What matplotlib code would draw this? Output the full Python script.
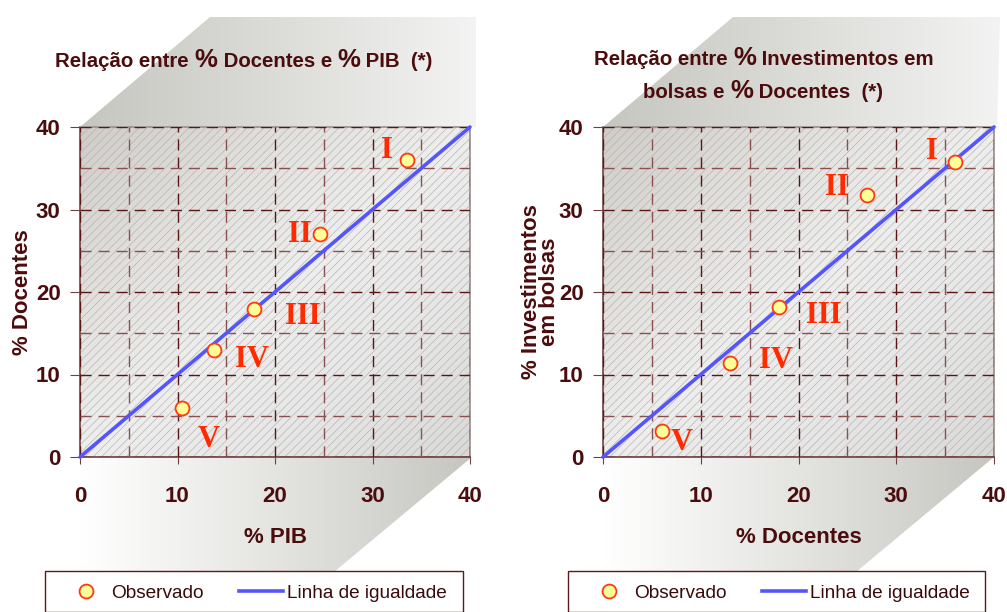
import matplotlib
matplotlib.use('Agg')
import matplotlib.pyplot as plt
import numpy as np
from matplotlib.patches import Polygon, Rectangle
from matplotlib.colors import LinearSegmentedColormap
from matplotlib.offsetbox import TextArea, HPacker, AnnotationBbox
from matplotlib.lines import Line2D

# ---------------- data ----------------
regioes = ['I', 'II', 'III', 'IV', 'V']
pib = [33.5, 24.6, 17.8, 13.7, 10.5]
docentes = [36.0, 27.0, 18.0, 13.0, 6.0]
bolsas = [35.7, 31.8, 18.2, 11.4, 3.2]
igualdade = [0, 40]
ticks = [0, 10, 20, 30, 40]

# label offsets (pixels) for region names
off_esq = [(-20, 9), (-20, 0), (49, -8), (38, -10), (26, -32)]
off_dir = [(-23, 11), (-30, 7), (45, -9), (46, 2), (20, -12)]

MAROON = '#4a0c0c'
SPINE = '#6e4040'
RED = '#ff2a00'
BLUE = '#5555ff'

plt.rcParams['font.family'] = ['Liberation Sans', 'DejaVu Sans']
plt.rcParams['hatch.linewidth'] = 0.45

W, H = 1007, 612
fig = plt.figure(figsize=(W / 100, H / 100), dpi=100)

# background axes in pixel coordinates
bg = fig.add_axes([0, 0, 1, 1], zorder=-10)
bg.set_xlim(0, W)
bg.set_ylim(H, 0)
bg.axis('off')

top_cmap = LinearSegmentedColormap.from_list('top', ['#c6c6c1', '#dcdcd8', '#f3f3f3'])
bot_cmap = LinearSegmentedColormap.from_list('bot', ['#ffffff', '#e4e4e1', '#c6c6c1'])


def grad_poly(pts, cmap):
    xs = [p[0] for p in pts]
    ys = [p[1] for p in pts]
    x0, x1, y0, y1 = min(xs), max(xs), min(ys), max(ys)
    g = np.linspace(0, 1, 256)[None, :]
    im = bg.imshow(g, extent=[x0, x1, y1, y0], cmap=cmap, aspect='auto',
                   interpolation='bilinear')
    poly = Polygon(pts, closed=True, transform=bg.transData, facecolor='none',
                   edgecolor='none')
    bg.add_patch(poly)
    im.set_clip_path(poly)


# left panel shapes
grad_poly([(80, 127), (210, 17), (476, 17), (476, 127)], top_cmap)
grad_poly([(80, 457), (472, 457), (328, 577), (80, 577)], bot_cmap)
# right panel shapes
grad_poly([(603, 127), (733, 17), (1000, 17), (997, 127)], top_cmap)
grad_poly([(603, 457), (994, 457), (850, 577), (603, 577)], bot_cmap)
bg.set_xlim(0, W)
bg.set_ylim(H, 0)

area_cmap = LinearSegmentedColormap.from_list(
    'area', ['#d0cdc9', '#e0dfdc', '#eeeeee', '#e6e6e6', '#d9d9d8'])


def panel(rect, xs, ys, offs, xlabel, ylabel, ylabel_x):
    ax = fig.add_axes(rect)
    # gradient fill
    xx, yy = np.meshgrid(np.linspace(0, 1, 200), np.linspace(0, 1, 200))
    u = (xx + yy) / 2.0
    ax.imshow(u, extent=[0, 40, 0, 40], origin='upper', cmap=area_cmap,
              aspect='auto', zorder=0, interpolation='bilinear')
    ax.add_patch(Rectangle((0, 0), 40, 40, facecolor='none', edgecolor='#b4b1ac',
                           hatch='////', linewidth=0, zorder=0.5))
    ax.set_xlim(0, 40)
    ax.set_ylim(0, 40)
    ax.set_xticks(ticks)
    ax.set_yticks(ticks)
    ax.set_xticks([5, 15, 25, 35], minor=True)
    ax.set_yticks([5, 15, 25, 35], minor=True)
    ax.grid(True, which='major', color='#5a1515', linestyle=(0, (8, 5)), linewidth=1.0)
    ax.grid(True, which='minor', color='#8a5050', linestyle=(0, (8, 5)), linewidth=1.0)
    ax.set_axisbelow(False)
    for s in ['left', 'bottom']:
        ax.spines[s].set_color(SPINE)
        ax.spines[s].set_linewidth(1.2)
    for s in ['top', 'right']:
        ax.spines[s].set_color('#9c8e8c')
        ax.spines[s].set_linewidth(1.2)
    ax.tick_params(which='minor', length=0)
    ax.tick_params(axis='y', which='major', length=7, color=SPINE, pad=7,
                   labelsize=16, labelcolor=MAROON, direction='out')
    ax.tick_params(axis='x', which='major', length=5, color=SPINE, pad=16,
                   labelsize=16, labelcolor=MAROON, direction='out')
    for lab in ax.get_xticklabels() + ax.get_yticklabels():
        lab.set_fontweight('bold')

    ax.plot(igualdade, igualdade, color=BLUE, linewidth=2.6, solid_capstyle='round',
            zorder=3, label='Linha de igualdade', clip_on=False)
    ax.plot(xs, ys, 'o', markersize=10, markerfacecolor='#ffff99',
            markeredgecolor='#ff3a10', markeredgewidth=1.3, zorder=4,
            label='Observado', linestyle='none')
    for name, x, y, o in zip(regioes, xs, ys, offs):
        ax.annotate(name, (x, y), xytext=o, textcoords='offset pixels',
                    ha='center', va='center', color=RED, fontsize=22,
                    fontweight='bold', family=['Liberation Serif'], zorder=5)
    ax.set_xlabel(xlabel, fontsize=16, fontweight='bold', color=MAROON, labelpad=14)
    ax.set_ylabel(ylabel, fontsize=16, fontweight='bold', color=MAROON,
                  linespacing=0.8)
    ax.yaxis.set_label_coords(ylabel_x, 0.5)
    return ax


axL = panel([80 / W, 1 - 457 / H, 390 / W, 330 / H], pib, docentes, off_esq,
            '% PIB', '% Docentes', -0.12)
axR = panel([603 / W, 1 - 457 / H, 391 / W, 330 / H], docentes, bolsas, off_dir,
            '% Docentes', '% Investimentos\nem bolsas', -0.11)


def title_line(pieces, xc, yc):
    kids = []
    for txt, size in pieces:
        kids.append(TextArea(txt, textprops=dict(fontsize=size, fontweight='bold',
                                                 color=MAROON)))
    box = HPacker(children=kids, align='baseline', pad=0, sep=0)
    ab = AnnotationBbox(box, (xc / W, 1 - yc / H), xycoords='figure fraction',
                        frameon=False, box_alignment=(0.5, 0.5), pad=0)
    fig.add_artist(ab)


S, B = 14.7, 18.5
title_line([('Relação entre ', S), ('%', B), (' Docentes e ', S), ('%', B),
            (' PIB  (*)', S)], 244, 60)
title_line([('Relação entre ', S), ('%', B), (' Investimentos em', S)], 764, 58)
title_line([('bolsas e ', S), ('%', B), (' Docentes  (*)', S)], 763, 91)

# legends
handles = [Line2D([], [], marker='o', linestyle='none', markersize=10,
                  markerfacecolor='#ffff99', markeredgecolor='#ff3a10',
                  markeredgewidth=1.3),
           Line2D([], [], color=BLUE, linewidth=2.6)]
labels = ['Observado', 'Linha de igualdade']
for x0, x1 in [(45, 463), (568, 985)]:
    fig.add_artist(Rectangle((x0 / W, 0), (x1 - x0) / W, (H - 577) / H + 0.01,
                             transform=fig.transFigure, facecolor='white',
                             edgecolor='#5a1a1a', linewidth=1.0, zorder=5))
    leg = fig.legend(handles, labels, loc='center left',
                     bbox_to_anchor=(x0 / W + 19 / W, 1 - 593 / H),
                     ncol=2, frameon=False, fontsize=13.7, handlelength=2.3,
                     handletextpad=0.2, columnspacing=1.85, borderpad=0,
                     borderaxespad=0, labelcolor='#3a0a0a')
    leg.set_zorder(6)

fig.savefig('out.png', dpi=100)
